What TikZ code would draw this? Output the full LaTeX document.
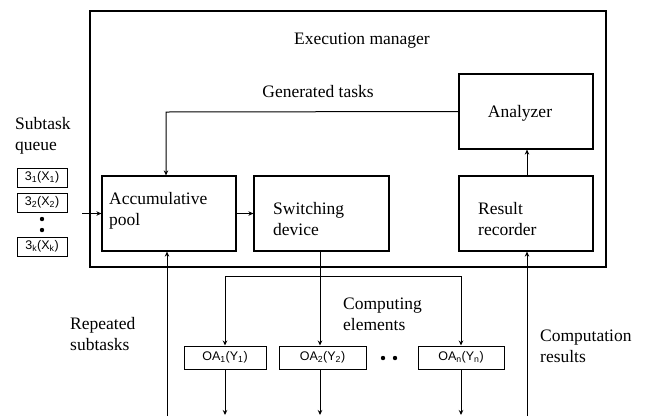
\documentclass[tikz,border=0pt]{standalone}
\usepackage{fontspec}
\setmainfont{Liberation Serif}
\newfontfamily\sansf{Liberation Sans}
\usetikzlibrary{arrows.meta}
\begin{document}
\begin{tikzpicture}[x=1pt,y=-1pt,
  box/.style={draw, line width=1.2pt, inner sep=0pt},
  arr/.style={line width=1pt, -{Stealth[length=5pt,width=4.5pt]}},
  ln/.style={line width=1pt},
  lbl/.style={font=\fontsize{17.5}{21}\selectfont, align=left, inner sep=0pt},
  sbox/.style={draw, line width=1pt, font=\sansf\fontsize{12.5}{14}\selectfont, inner sep=0pt}]
\useasboundingbox (0,0) rectangle (647,416);
% main boxes
\node[box, minimum width=516pt, minimum height=256pt] (em) at (348,139) {};
\node[box, minimum width=134pt, minimum height=75pt] (pool) at (169,213.5) {};
\node[box, minimum width=135pt, minimum height=75pt] (sw) at (321.5,213.5) {};
\node[box, minimum width=134pt, minimum height=75pt] (an) at (526,111.5) {};
\node[box, minimum width=134pt, minimum height=75pt] (rr) at (526,213.5) {};
% queue
\node[sbox, minimum width=50pt, minimum height=19pt] (q1) at (42,177.5) {3\textsubscript{1}(X\textsubscript{1})};
\node[sbox, minimum width=50pt, minimum height=19pt] (q2) at (42,202.5) {3\textsubscript{2}(X\textsubscript{2})};
\node[sbox, minimum width=50pt, minimum height=19pt] (qk) at (42,246.5) {3\textsubscript{k}(X\textsubscript{k})};
\fill (42,219) circle (2.2pt) (42,230) circle (2.2pt);
% computing elements
\node[sbox, minimum width=82pt, minimum height=23pt] (oa1) at (225,357.5) {OA\textsubscript{1}(Y\textsubscript{1})};
\node[sbox, minimum width=87pt, minimum height=23pt] (oa2) at (322.5,357.5) {OA\textsubscript{2}(Y\textsubscript{2})};
\node[sbox, minimum width=86pt, minimum height=23pt] (oan) at (461,357.5) {OA\textsubscript{n}(Y\textsubscript{n})};
\fill (383,358) circle (2.2pt) (395,358) circle (2.2pt);
% labels
\node[lbl] (t1) at (362,41) {Execution manager};
\node[lbl] (t2) at (318,92) {Generated tasks};
\node[lbl] (t3) at (520,113) {Analyzer};
\node[lbl, anchor=west] (t4) at (109,210.5) {Accumulative\\pool};
\node[lbl, anchor=west] (t5) at (273,219) {Switching\\device};
\node[lbl, anchor=west] (t6) at (478,219.5) {Result\\recorder};
\node[lbl, anchor=west] (t7) at (15,135.5) {Subtask\\queue};
\node[lbl, anchor=west] (t8) at (343,314) {Computing\\elements};
\node[lbl, anchor=west] (t9) at (70,334.5) {Repeated\\subtasks};
\node[lbl, anchor=west] (t10) at (540,346) {Computation\\results};
% coordinates
\coordinate (qin) at (82,213.5);
\coordinate (gcorner) at (166,112);
\coordinate (busL) at (225,276);
\coordinate (busR) at (461,276);
\coordinate (b0) at (167,416);
\coordinate (b1) at (225,415);
\coordinate (b2) at (320,415);
\coordinate (bn) at (461,415);
\coordinate (b5) at (527,416);
% connectors
\draw[arr] (qin) -- (pool.west);
\draw[arr] (pool.east) -- (sw.west);
\draw[arr] (an.west) -- (gcorner) -- (gcorner |- pool.north);
\draw[arr] (rr.north -| 527,0) -- (an.south -| 527,0);
\draw[arr] (sw.south -| 320,0) -- (oa2.north -| 320,0);
\draw[ln] (busL) -- (busR);
\draw[arr] (busL) -- (oa1.north);
\draw[arr] (busR) -- (oan.north);
\draw[arr] (oa1.south) -- (b1);
\draw[arr] (oa2.south -| 320,0) -- (b2);
\draw[arr] (oan.south) -- (bn);
\draw[arr] (b0) -- (b0 |- pool.south);
\draw[arr] (b5) -- (b5 |- rr.south);
\end{tikzpicture}
\end{document}
